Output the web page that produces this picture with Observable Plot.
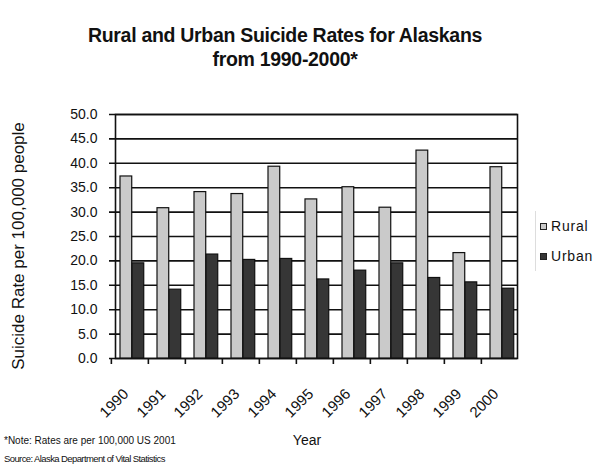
<!DOCTYPE html>
<html>
<head>
<meta charset="utf-8">
<script src="https://cdn.jsdelivr.net/npm/d3@7"></script>
<script src="https://cdn.jsdelivr.net/npm/@observablehq/plot@0.6"></script>
<style>
  html, body { margin: 0; padding: 0; background: #fff; }
  #chart { position: relative; width: 598px; height: 468px; font-family: "Liberation Sans", Arial, sans-serif; color: #111; overflow: hidden; }
  #chart svg { position: absolute; left: 0; top: 0; }
  .title { position: absolute; left: 0; width: 570px; text-align: center; font-weight: bold; font-size: 19.5px; letter-spacing: -0.3px; line-height: 24px; }
  .ylabel { position: absolute; left: 19px; top: 246px; transform: translate(-50%, -50%) rotate(-90deg); white-space: nowrap; font-size: 17px; }
  .xlabel { position: absolute; left: 307px; top: 440px; transform: translate(-50%, -50%); font-size: 14px; }
  .legend { position: absolute; left: 535px; top: 211px; font-size: 14px; letter-spacing: 0.8px; border-left: 1px solid #ddd; padding-left: 4px; }
  .legend div { display: flex; align-items: center; height: 30px; }
  .legend span.sw { display: inline-block; width: 5px; height: 5px; border: 1px solid #222; margin-right: 4px; }
  .note { position: absolute; left: 4px; white-space: nowrap; }
</style>
</head>
<body>
<div id="chart">
  <div class="title" style="top:23px">Rural and Urban Suicide Rates for Alaskans</div>
  <div class="title" style="top:47px">from 1990-2000*</div>
  <div class="ylabel">Suicide Rate per 100,000 people</div>
  <div class="xlabel">Year</div>
  <div class="legend" id="legend"></div>
  <div class="note" style="top:435px;font-size:10px">*Note: Rates are per 100,000 US 2001</div>
  <div class="note" style="top:453px;font-size:9.5px;letter-spacing:-0.6px">Source: Alaska Department of Vital Statistics</div>
</div>
<script>
// Suicide rates per 100,000 people, by year
const years = ["1990", "1991", "1992", "1993", "1994", "1995", "1996", "1997", "1998", "1999", "2000"];
const rural = [37.3, 30.8, 34.1, 33.7, 39.3, 32.6, 35.1, 30.9, 42.6, 21.6, 39.2];
const urban = [19.5, 14.1, 21.3, 20.2, 20.4, 16.2, 18.0, 19.5, 16.5, 15.6, 14.3];
const series = ["Rural", "Urban"];
const yTicks = [0, 5, 10, 15, 20, 25, 30, 35, 40, 45, 50];

const colors = {Rural: "#cacaca", Urban: "#363636"};

const rows = years.map((year, i) => ({year, rural: rural[i], urban: urban[i]}));

const width = 598, height = 468;
const margin = {left: 109, right: 79, top: 114, bottom: 110};
const step = (width - margin.left - margin.right) / years.length;

// Two side-by-side bars inside each year's band
const barW = 12;
const ruralLeft = 9;
const urbanLeft = ruralLeft + barW;

const chart = Plot.plot({
  width, height,
  marginLeft: margin.left, marginRight: margin.right,
  marginTop: margin.top, marginBottom: margin.bottom,
  style: {fontFamily: "'Liberation Sans', Arial, sans-serif", color: "#111", background: "transparent"},
  x: {type: "band", domain: years, padding: 0},
  y: {domain: [0, 50]},
  marks: [
    Plot.gridY(yTicks, {stroke: "#111", strokeOpacity: 1, strokeWidth: 1.6, insetRight: 2}),
    Plot.frame({stroke: "#111", strokeWidth: 1.6, insetLeft: 6, insetRight: 2}),
    Plot.barY(rows, {x: "year", y: "rural", fill: colors.Rural, stroke: "#111", strokeWidth: 1.2,
      insetLeft: ruralLeft, insetRight: step - ruralLeft - barW}),
    Plot.barY(rows, {x: "year", y: "urban", fill: colors.Urban, stroke: "#111", strokeWidth: 1.2,
      insetLeft: urbanLeft, insetRight: step - urbanLeft - barW}),
    Plot.axisY(yTicks, {tickSize: 0, tickPadding: 12, tickFormat: d3.format(".1f"), fontSize: 14, label: null}),
    // category boundary ticks below the axis
    Plot.axisX({tickSize: 6, tickFormat: () => "", dx: -step / 2, stroke: "#111", strokeWidth: 1.6, label: null}),
    Plot.axisX({tickSize: 0, tickRotate: -45, tickPadding: 33, dx: -4, fontSize: 15, label: null})
  ]
});
document.getElementById("chart").appendChild(chart);

const legend = document.getElementById("legend");
for (const s of series) {
  const row = document.createElement("div");
  row.innerHTML = `<span class="sw" style="background:${colors[s]}"></span>${s}`;
  legend.appendChild(row);
}
</script>
</body>
</html>
